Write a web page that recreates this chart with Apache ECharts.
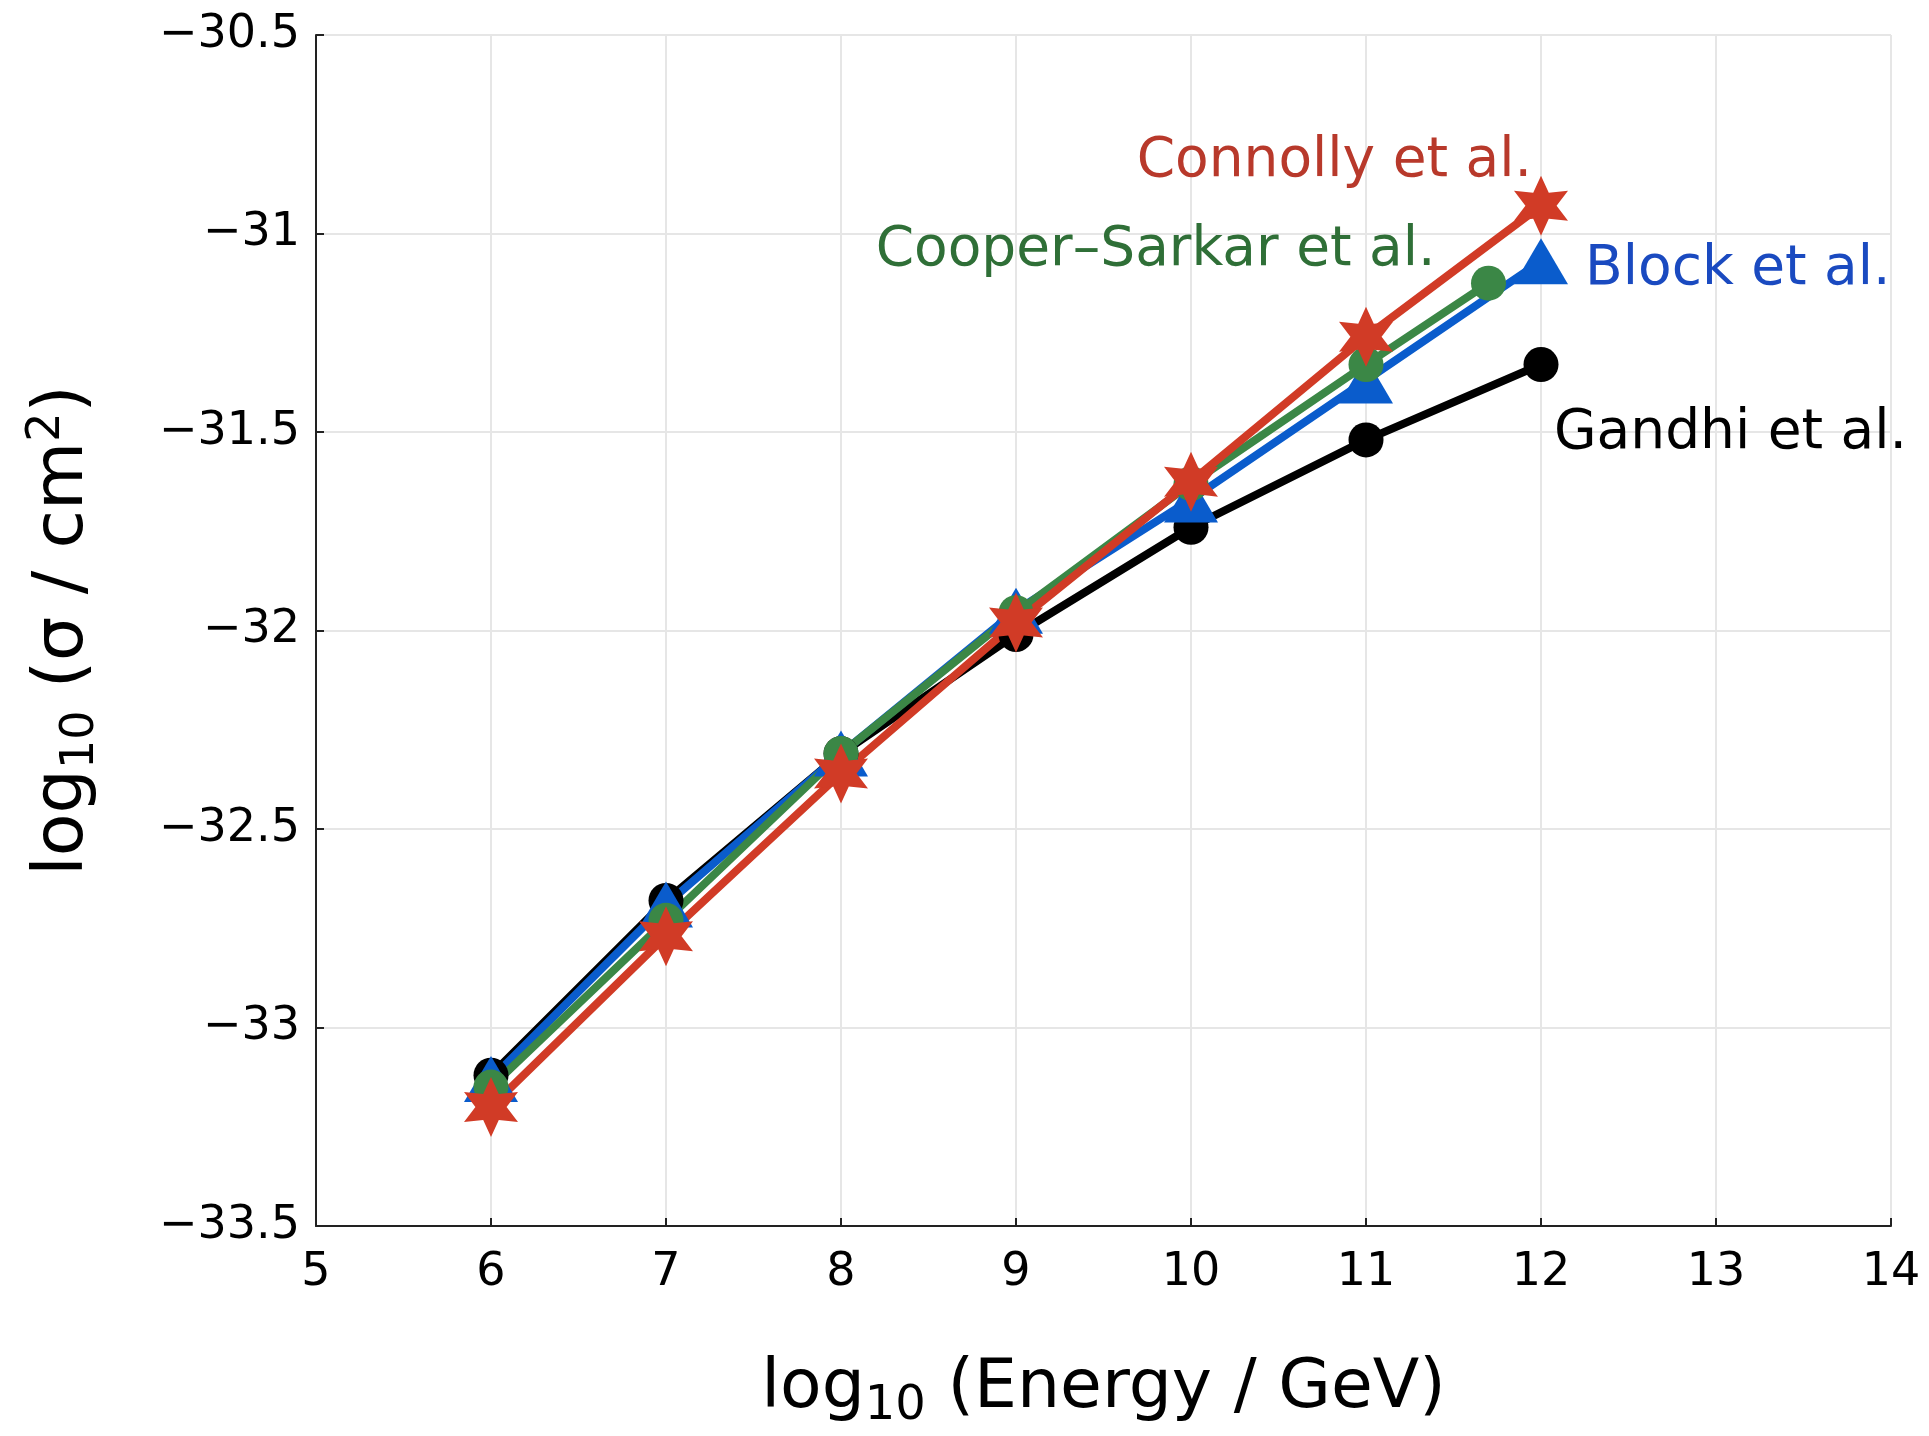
<!DOCTYPE html>
<html>
<head>
<meta charset="utf-8">
<script src="https://cdn.jsdelivr.net/npm/echarts@6/dist/echarts.min.js"></script>
<style>
html, body { margin: 0; padding: 0; background: #fff; }
#chart { width: 1929px; height: 1436px; }
</style>
</head>
<body>
<div id="chart"></div>
<script>
// ---- data (log10 energy in GeV, log10 cross-section in cm^2) ----
var energies   = [6, 7, 8, 9, 10, 11, 12];
var energiesCS = [6, 7, 8, 9, 10, 11, 11.7];
var gandhi   = [-33.12, -32.68, -32.31, -32.01, -31.74, -31.52, -31.33];
var block    = [-33.13, -32.69, -32.31, -31.95, -31.67, -31.37, -31.07];
var cooper   = [-33.15, -32.73, -32.31, -31.955, -31.63, -31.33, -31.125];
var connolly = [-33.20, -32.77, -32.36, -31.98, -31.625, -31.26, -30.93];
var xTicks = [5, 6, 7, 8, 9, 10, 11, 12, 13, 14];
var yTicks = [-33.5, -33, -32.5, -32, -31.5, -31, -30.5];
var names = ['Gandhi et al.', 'Block et al.', 'Cooper\u2013Sarkar et al.', 'Connolly et al.'];

function pairs(xs, ys) { return xs.map(function (x, i) { return [x, ys[i]]; }); }

function hexagram(inner) {
  var pts = [];
  for (var i = 0; i < 12; i++) {
    var a = -Math.PI / 2 + i * Math.PI / 6;
    var r = (i % 2 === 0) ? 1 : inner;
    pts.push((100 + 100 * r * Math.cos(a)).toFixed(2) + ' ' + (100 + 100 * r * Math.sin(a)).toFixed(2));
  }
  return 'path://M' + pts.join(' L') + ' Z';
}

var FONT = 'DejaVu Sans';
var chart = echarts.init(document.getElementById('chart'));

function lineSeries(name, xs, ys, color, symbol, symbolSize, labelColor, align, offset) {
  return {
    name: name,
    type: 'line',
    data: pairs(xs, ys),
    symbol: symbol,
    symbolSize: symbolSize,
    showAllSymbol: true,
    lineStyle: { color: color, width: 8 },
    itemStyle: { color: color, opacity: 1 },
    emphasis: { disabled: true },
    endLabel: {
      show: true,
      formatter: name,
      color: labelColor,
      fontFamily: FONT,
      fontSize: 55,
      distance: 0,
      align: align,
      verticalAlign: 'middle',
      offset: offset
    }
  };
}

chart.setOption({
  animation: false,
  backgroundColor: '#ffffff',
  grid: { left: 316, top: 35, right: 38, bottom: 200, containLabel: false },
  xAxis: {
    type: 'value',
    min: xTicks[0], max: xTicks[xTicks.length - 1], interval: 1,
    name: '{a|log}{s|10}{a| (Energy / GeV)}',
    nameLocation: 'middle',
    nameGap: 121,
    nameTextStyle: {
      rich: {
        a: { fontFamily: FONT, fontSize: 68, color: '#000' },
        s: { fontFamily: FONT, fontSize: 48, color: '#000', padding: [36, 0, 0, 0] }
      }
    },
    axisLine: { show: true, onZero: false, lineStyle: { color: '#222', width: 2 } },
    axisTick: { show: true, inside: true, length: 8, lineStyle: { color: '#222', width: 2 } },
    axisLabel: { fontFamily: FONT, fontSize: 46, color: '#000', margin: 24 },
    splitLine: { show: true, lineStyle: { color: '#e6e6e6', width: 2 } }
  },
  yAxis: {
    type: 'value',
    min: yTicks[0], max: yTicks[yTicks.length - 1], interval: 0.5,
    name: '{a|log}{s|10}{a| (\u03c3 / cm}{p|2}{a|)}',
    nameLocation: 'middle',
    nameRotate: 90,
    nameGap: 212,
    nameTextStyle: {
      rich: {
        a: { fontFamily: FONT, fontSize: 70, color: '#000' },
        s: { fontFamily: FONT, fontSize: 46, color: '#000', padding: [34, 0, 0, 0] },
        p: { fontFamily: FONT, fontSize: 46, color: '#000', padding: [0, 0, 34, 0] }
      }
    },
    axisLine: { show: true, onZero: false, lineStyle: { color: '#222', width: 2 } },
    axisTick: { show: true, inside: true, length: 8, lineStyle: { color: '#222', width: 2 } },
    axisLabel: {
      fontFamily: FONT, fontSize: 46, color: '#000', margin: 16,
      formatter: function (v) { return String(v).replace('-', '\u2212'); }
    },
    splitLine: { show: true, lineStyle: { color: '#e6e6e6', width: 2 } }
  },
  series: [
    lineSeries(names[0], energies, gandhi, '#000000', 'circle', 35, '#000000', 'left', [13, 69]),
    lineSeries(names[1], energies, block, '#0a5ccc', 'triangle', [54, 46], '#1a4ac0', 'left', [44, 8]),
    lineSeries(names[2], energiesCS, cooper, '#3b8746', 'circle', 35, '#2f6f37', 'right', [-53, -32]),
    lineSeries(names[3], energies, connolly, '#d13b26', hexagram(0.5), [54, 60], '#b8392b', 'right', [-9, -44])
  ]
});
</script>
</body>
</html>
